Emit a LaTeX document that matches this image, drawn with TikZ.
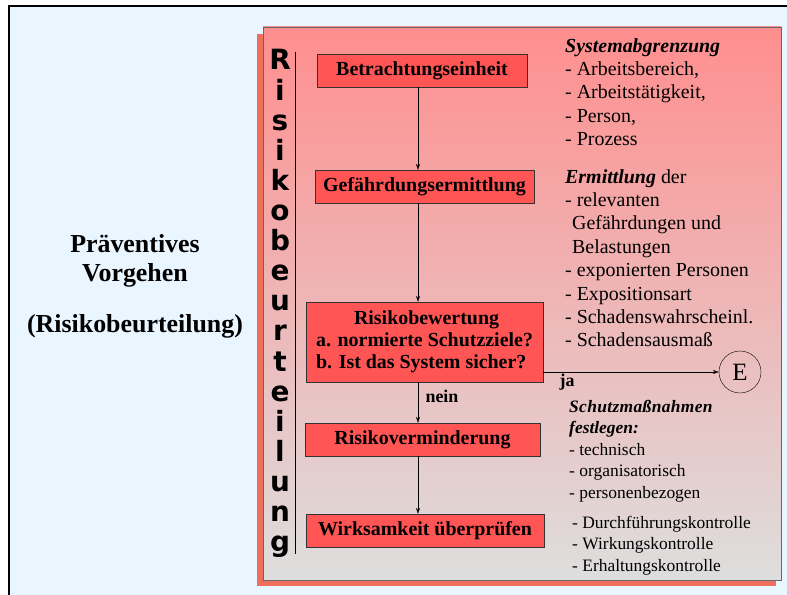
\documentclass[tikz,border=0pt]{standalone}
\usepackage{fontspec}
\setmainfont{Liberation Serif}
\newfontfamily\heavyfont{DejaVu Sans}
\usetikzlibrary{positioning,arrows.meta,shadows}

\definecolor{bgblue}{RGB}{234,246,255}
\definecolor{paneltop}{RGB}{255,142,142}
\definecolor{panelbot}{RGB}{222,222,222}
\definecolor{boxred}{RGB}{255,85,85}
\definecolor{rimred}{RGB}{238,112,92}

\tikzset{
  stepbox/.style={draw=black!80, fill=boxred, inner sep=0pt, minimum height=33bp,
    font=\bfseries\fontsize{20}{22}\selectfont,
    drop shadow={shadow xshift=1.2bp, shadow yshift=-1.2bp, opacity=.6, fill=black!70}},
  vletter/.style={anchor=base, inner sep=0pt, font=\heavyfont\bfseries\fontsize{28}{28}\selectfont},
  notes/.style={anchor=north west, align=left, inner sep=0pt, font=\fontsize{20}{23.5}\selectfont},
  smallnotes/.style={anchor=north west, align=left, inner sep=0pt, font=\fontsize{17.5}{21.5}\selectfont},
  tag/.style={inner sep=0pt, font=\bfseries\fontsize{18}{18}\selectfont}
}

\begin{document}
\begin{tikzpicture}[x=1bp, y=-1bp, >={Stealth[length=6bp,width=4bp]}]
\useasboundingbox (0,0) rectangle (787,595);
\clip (0,0) rectangle (787,595);
\fill[white] (0,0) rectangle (787,595);
\draw[line width=2bp, fill=bgblue] (8.5,6.5) rectangle (800,610);

% panel
\fill[rimred] (257,34) rectangle (776,586);
\shade[top color=paneltop, bottom color=panelbot, draw=black!60] (263,27) rectangle (781,580);

% title on the left
\node[font=\bfseries\fontsize{26}{29}\selectfont, align=center] (praev) at (135,261) {Präventives\\Vorgehen};
\node[font=\bfseries\fontsize{26}{26}\selectfont] (risk) at (135,326) {(Risikobeurteilung)};

% vertical word
\foreach \ch [count=\i from 0] in {R,i,s,i,k,o,b,e,u,r,t,e,i,l,u,n,g}
  \node[vletter] (L\i) at (280,70+30.1*\i) {\ch};
\draw (295,52) -- (295,554);

% steps
\node[stepbox, minimum width=210bp] (b1) at (422,70.5) {Betrachtungseinheit};
\node[stepbox, minimum width=219bp] (b2) at (424.5,186.5) {Gefährdungsermittlung};
\node[stepbox, minimum width=237bp, minimum height=80bp, align=left] (b3) at (424.5,342)
  {\hspace*{38bp}Risikobewertung\\a. normierte Schutzziele?\\b. Ist das System sicher?};
\node[stepbox, minimum width=235bp] (b4) at (422.5,439.5) {Risikoverminderung};
\node[stepbox, minimum width=238bp] (b5) at (425,530.5) {Wirksamkeit überprüfen};

\coordinate (axis) at (418,0);
\foreach \a/\b in {b1/b2,b2/b3,b3/b4,b4/b5}
  \draw[->] (\a.south -| axis) -- (\b.north -| axis);
\node[tag] (nein) at (442,396) {nein};

\node[circle, draw, minimum size=42bp, inner sep=0pt, font=\fontsize{25}{25}\selectfont] (E) at (740,372) {E};
\coordinate (jaout) at (543,372);
\draw[->] (jaout) -- (E);
\node[tag] (ja) at (567,382) {ja};

% notes on the right
\node[notes] (sysab) at (565,38) {\textbf{\textit{Systemabgrenzung}}\\- Arbeitsbereich,\\- Arbeitstätigkeit,\\- Person,\\- Prozess};
\node[notes] (ermit) at (565,169) {\textbf{\textit{Ermittlung}} der\\- relevanten\\\hspace*{7bp}Gefährdungen und\\\hspace*{7bp}Belastungen\\- exponierten Personen\\- Expositionsart\\- Schadenswahrscheinl.\\- Schadensausmaß};
\node[smallnotes] (schutz) at (569,400) {\textbf{\textit{\addfontfeatures{LetterSpace=2}Schutzmaßnahmen}}\\\textbf{\textit{festlegen:}}\\- technisch\\- organisatorisch\\- personenbezogen};
\node[smallnotes] (kontr) at (572,516) {- Durchführungskontrolle\\- Wirkungskontrolle\\- Erhaltungskontrolle};
\end{tikzpicture}
\end{document}
